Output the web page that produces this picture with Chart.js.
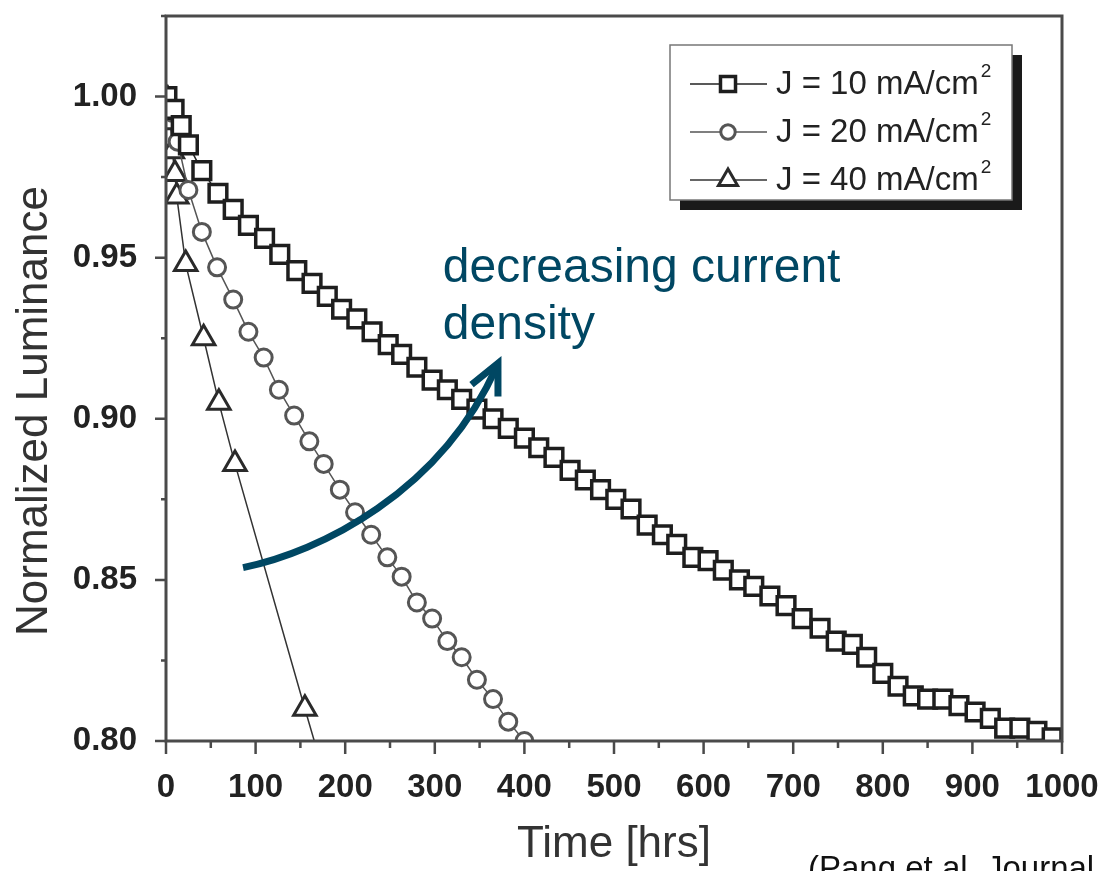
<!DOCTYPE html>
<html>
<head>
<meta charset="utf-8">
<script src="https://cdn.jsdelivr.net/npm/chart.js@4.4.1/dist/chart.umd.min.js"></script>
<style>
  html, body { margin: 0; padding: 0; background: #fff; }
  canvas { display: block; }
</style>
</head>
<body>
<canvas id="chartLum" width="1104" height="871"></canvas>
<script>
// J = 10 mA/cm2 (squares)
const hours10 = [1, 9, 17, 25, 40, 58, 75, 92, 110, 127, 146, 163, 180, 196, 213, 230, 248, 263, 280, 297,
  314, 330, 347, 365, 382, 400, 416, 433, 451, 468, 485, 502, 519, 537, 554, 570, 588, 605, 622, 640,
  656, 674, 692, 710, 730, 748, 766, 782, 800, 817, 834, 850, 867, 885, 903, 920, 936, 953, 972, 989];
const lum10 = [1.000, 0.996, 0.991, 0.985, 0.977, 0.970, 0.965, 0.960, 0.956, 0.951, 0.946, 0.942, 0.938, 0.934, 0.931, 0.927, 0.923, 0.920, 0.916, 0.912,
  0.909, 0.906, 0.903, 0.900, 0.897, 0.894, 0.891, 0.888, 0.884, 0.881, 0.878, 0.875, 0.872, 0.867, 0.864, 0.861, 0.857, 0.856, 0.853, 0.850,
  0.848, 0.845, 0.842, 0.838, 0.835, 0.831, 0.830, 0.826, 0.821, 0.817, 0.814, 0.813, 0.813, 0.811, 0.809, 0.807, 0.804, 0.804, 0.803, 0.801];

// J = 20 mA/cm2 (circles)
const hours20 = [1, 7, 13, 25, 40, 57, 75, 92, 109, 126, 143, 160, 176, 194, 211, 229, 247, 263, 280, 297, 314, 330, 347, 365, 382, 400];
const lum20 = [1.000, 0.995, 0.986, 0.971, 0.958, 0.947, 0.937, 0.927, 0.919, 0.909, 0.901, 0.893, 0.886, 0.878, 0.871, 0.864, 0.857, 0.851, 0.843, 0.838, 0.831, 0.826, 0.819, 0.813, 0.806, 0.800];

// J = 40 mA/cm2 (triangles), last point lies below the axis and is clipped
const hours40 = [2, 5, 7, 10, 12, 22, 42, 59, 77, 155, 175];
const lum40 = [0.999, 0.992, 0.983, 0.976, 0.969, 0.948, 0.925, 0.905, 0.886, 0.810, 0.791];

const seriesLabels = ['J = 10 mA/cm²', 'J = 20 mA/cm²', 'J = 40 mA/cm²'];
const xMajor = [0, 100, 200, 300, 400, 500, 600, 700, 800, 900, 1000];
const yMajor = [0.80, 0.85, 0.90, 0.95, 1.00];

// arrow annotation, in data units (hours, luminance)
const arrowCurve = [[86, 0.8538], [172, 0.8587], [306, 0.8771], [369, 0.9161]];
const arrowHead = [[341, 0.9106], [370.5, 0.9172], [370.5, 0.9069]];
const noteLines = ['decreasing current', 'density'];
const notePos = [[309, 0.9423], [309, 0.9247]];

const TEAL = '#004763';
const FONT = "'Liberation Sans', Arial, sans-serif";
Chart.defaults.font.family = FONT;

const toXY = (xs, ys) => xs.map((x, i) => ({x: x, y: ys[i]}));

const extras = {
  id: 'extras',
  afterDatasetsDraw(chart) {
    const ctx = chart.ctx;
    const xs = chart.scales.x, ys = chart.scales.y;
    const px = p => [xs.getPixelForValue(p[0]), ys.getPixelForValue(p[1])];
    const c = arrowCurve.map(px);
    ctx.save();
    ctx.strokeStyle = TEAL;
    ctx.lineWidth = 7;
    ctx.beginPath();
    ctx.moveTo(c[0][0], c[0][1]);
    ctx.bezierCurveTo(c[1][0], c[1][1], c[2][0], c[2][1], c[3][0], c[3][1]);
    ctx.stroke();
    const h = arrowHead.map(px);
    ctx.lineJoin = 'miter';
    ctx.beginPath();
    ctx.moveTo(h[0][0], h[0][1]);
    ctx.lineTo(h[1][0], h[1][1]);
    ctx.lineTo(h[2][0], h[2][1]);
    ctx.stroke();
    ctx.fillStyle = TEAL;
    ctx.font = '48px ' + FONT;
    ctx.textBaseline = 'alphabetic';
    noteLines.forEach((t, i) => {
      const p = px(notePos[i]);
      ctx.fillText(t, p[0], p[1]);
    });
    ctx.restore();
  },
  afterDraw(chart) {
    const ctx = chart.ctx;
    const {left, right, top, bottom} = chart.chartArea;
    const xs = chart.scales.x, ys = chart.scales.y;
    ctx.save();
    // frame
    ctx.strokeStyle = '#4a4a4a';
    ctx.lineWidth = 3;
    ctx.strokeRect(left, top, right - left, bottom - top);
    // major and minor ticks, outward
    ctx.lineWidth = 2.5;
    ctx.beginPath();
    ys.ticks.forEach(t => {
      const py = ys.getPixelForValue(t.value);
      ctx.moveTo(left, py);
      ctx.lineTo(left - (t.label ? 11 : 5), py);
    });
    xs.ticks.forEach(t => {
      const p = xs.getPixelForValue(t.value);
      ctx.moveTo(p, bottom);
      ctx.lineTo(p, bottom + (t.label ? 13 : 7));
    });
    ctx.stroke();

    // y title
    ctx.fillStyle = '#333';
    ctx.font = '44px ' + FONT;
    ctx.textAlign = 'center';
    ctx.textBaseline = 'middle';
    ctx.translate(35, 411);
    ctx.rotate(-Math.PI / 2);
    ctx.fillText('Normalized Luminance', 0, 0);
    ctx.setTransform(1, 0, 0, 1, 0, 0);

    // legend box with shadow
    const bx = 670, by = 45, bw = 342, bh = 155;
    ctx.fillStyle = '#1a1a1a';
    ctx.fillRect(bx + 10, by + 10, bw, bh);
    ctx.fillStyle = '#fff';
    ctx.fillRect(bx, by, bw, bh);
    ctx.strokeStyle = '#777';
    ctx.lineWidth = 1.5;
    ctx.strokeRect(bx, by, bw, bh);
    const rowY = [84, 132, 180];
    chart.data.datasets.forEach((ds, i) => {
      const y = rowY[i];
      ctx.strokeStyle = ds.borderColor;
      ctx.lineWidth = 1.5;
      ctx.beginPath();
      ctx.moveTo(690, y);
      ctx.lineTo(767, y);
      ctx.stroke();
      ctx.fillStyle = ds.pointBackgroundColor;
      ctx.strokeStyle = ds.pointBorderColor;
      ctx.lineWidth = ds.pointBorderWidth;
      Chart.helpers.drawPoint(ctx, {
        pointStyle: ds.pointStyle, radius: ds.pointRadius * 0.85, rotation: 0,
        borderWidth: ds.pointBorderWidth
      }, 728, y);
      const main = seriesLabels[i].replace('²', '');
      ctx.fillStyle = '#222';
      ctx.font = '33px ' + FONT;
      ctx.textAlign = 'left';
      ctx.textBaseline = 'middle';
      ctx.fillText(main, 776, y + 1);
      const w = ctx.measureText(main).width;
      ctx.font = '19px ' + FONT;
      ctx.fillText('2', 776 + w + 2, y - 12);
    });

    // source note, cut by the bottom edge
    ctx.fillStyle = '#111';
    ctx.font = '33px ' + FONT;
    ctx.textAlign = 'left';
    ctx.textBaseline = 'alphabetic';
    ctx.fillText('(Pang et al. Journal', 808, 879);
    ctx.restore();
  }
};

const chartLum = new Chart(document.getElementById('chartLum'), {
  type: 'line',
  data: {
    datasets: [
      {
        label: seriesLabels[0],
        data: toXY(hours10, lum10),
        borderColor: '#222',
        borderWidth: 1.5,
        pointStyle: 'rect',
        pointRadius: 12.5,
        pointBorderWidth: 3.5,
        pointBorderColor: '#1e1e1e',
        pointBackgroundColor: '#fff',
        clip: 0
      },
      {
        label: seriesLabels[1],
        data: toXY(hours20, lum20),
        borderColor: '#555',
        borderWidth: 1.5,
        pointStyle: 'circle',
        pointRadius: 8.5,
        pointBorderWidth: 3,
        pointBorderColor: '#555',
        pointBackgroundColor: '#fff',
        clip: 0
      },
      {
        label: seriesLabels[2],
        data: toXY(hours40, lum40),
        borderColor: '#333',
        borderWidth: 1.5,
        pointStyle: 'triangle',
        pointRadius: 13,
        pointBorderWidth: 3,
        pointBorderColor: '#2a2a2a',
        pointBackgroundColor: '#fff',
        clip: 0
      }
    ]
  },
  options: {
    responsive: false,
    animation: false,
    layout: { padding: { top: 9, right: 42, left: 0, bottom: 0 } },
    plugins: {
      legend: { display: false },
      tooltip: { enabled: false }
    },
    scales: {
      x: {
        type: 'linear',
        min: 0,
        max: 1000,
        grid: { display: false },
        border: { display: false },
        ticks: {
          stepSize: 50,
          autoSkip: false,
          maxRotation: 0,
          padding: 19,
          color: '#222',
          font: { size: 33, weight: 'bold' },
          callback: v => xMajor.includes(Math.round(v)) ? String(Math.round(v)) : ''
        },
        title: {
          display: true,
          text: 'Time [hrs]',
          color: '#333',
          font: { size: 44 },
          padding: { top: 0, bottom: 0 }
        },
        afterFit: s => { s.height = 130; s.paddingLeft = 0; s.paddingRight = 0; }
      },
      y: {
        min: 0.8,
        max: 1.025,
        grid: { display: false },
        border: { display: false },
        ticks: {
          stepSize: 0.025,
          autoSkip: false,
          padding: 21,
          color: '#222',
          font: { size: 33, weight: 'bold' },
          callback: v => yMajor.some(m => Math.abs(m - v) < 1e-6) ? v.toFixed(2) : ''
        },
        afterFit: s => { s.width = 166; s.paddingTop = 0; s.paddingBottom = 0; }
      }
    }
  },
  plugins: [extras]
});
</script>
</body>
</html>
